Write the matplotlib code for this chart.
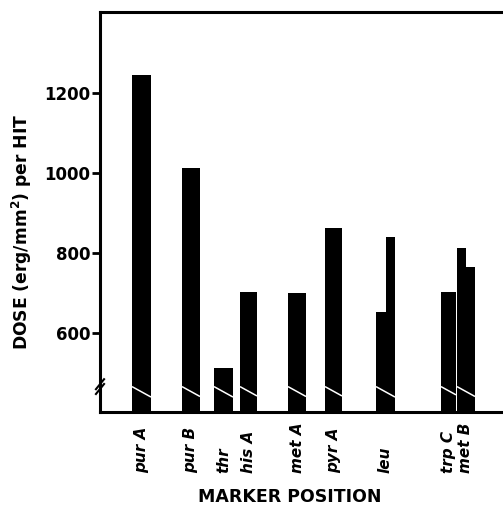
import matplotlib.pyplot as plt
from matplotlib.transforms import blended_transform_factory

# marker names and dose per hit (two values where the bar has a step)
markers = ["pur A", "pur B", "thr", "his A", "met A", "pyr A", "leu", "trp C", "met B"]
doses = [[1245], [1012], [512], [702], [700], [862], [652, 840], [702], [812, 765]]
map_pos = [41.5, 91, 123.5, 148.5, 197, 233.5, 285.5, 348.5, 366]
yticks = [600, 800, 1000, 1200]

widths = [19, 18, 19, 17, 18, 17, 19, 15, 18]
ymin, ymax = 402.5, 1402.5

fig = plt.figure(figsize=(5.03, 5.09), dpi=100)
ax = fig.add_axes([100/503, 97/509, 406/503, 400/509])

for x, w, vals in zip(map_pos, widths, doses):
    n = len(vals)
    sub = w / n
    for k, v in enumerate(vals):
        xc = x - w/2 + sub*(k + 0.5)
        ax.bar(xc, v - ymin, bottom=ymin, width=sub, color="black", linewidth=0)
    # white break line across the bar
    x0, x1 = x - w/2, x + w/2
    ax.plot([x0, x1], [466, 466 - 1.375*w], color="white", lw=1.1, solid_capstyle="butt")

ax.set_xlim(0, 406)
ax.set_ylim(ymin, ymax)
ax.set_yticks(yticks)
ax.set_yticklabels([str(t) for t in yticks], fontsize=12, fontweight="bold")
ax.set_xticks([])
ax.tick_params(axis="y", direction="out", length=6, width=2, pad=1)
for s in ["left", "bottom", "top"]:
    ax.spines[s].set_linewidth(2.2)
ax.spines["right"].set_visible(False)

# break mark on the y axis
for dy in (0.0, 0.012):
    ax.plot([-0.01, 0.01], [0.045 + dy, 0.07 + dy], transform=ax.transAxes,
            color="black", lw=1.5, clip_on=False)

trans = blended_transform_factory(ax.transData, ax.transAxes)
for x, name in zip(map_pos, markers):
    ax.text(x, -0.1525, name, transform=trans, rotation=90, rotation_mode="anchor",
            ha="left", va="center", fontsize=11, fontweight="bold", fontstyle="italic")

ax.set_ylabel("DOSE (erg/mm$^\\mathbf{2}$) per HIT", fontsize=12.3, fontweight="bold")
ax.yaxis.set_label_coords(-0.163, 0.45)
fig.text(290/503, 1 - 497/509, "MARKER POSITION", ha="center", va="center",
         fontsize=12.5, fontweight="bold")

fig.savefig("out.png", dpi=100)
